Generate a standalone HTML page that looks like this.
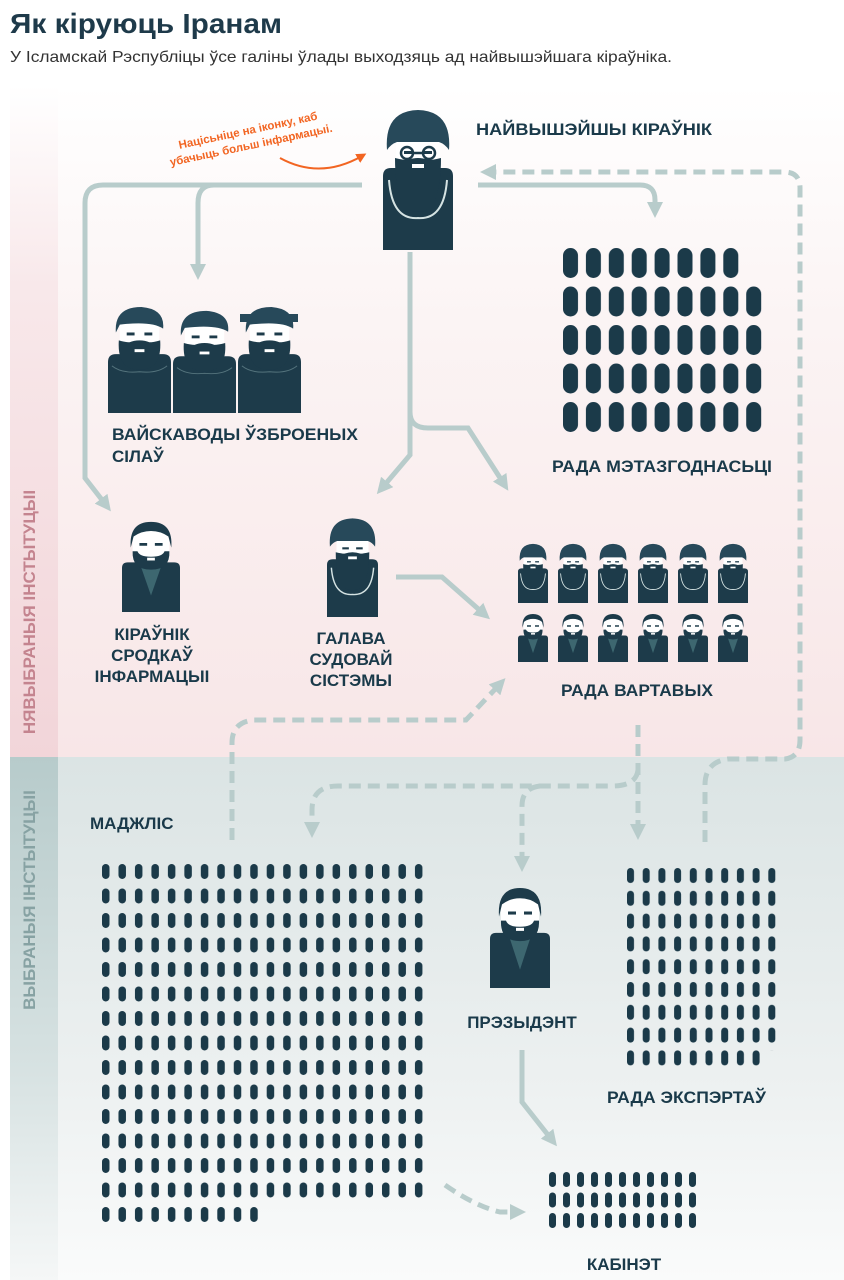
<!DOCTYPE html>
<html><head><meta charset="utf-8"><style>
html,body{margin:0;padding:0;background:#fff;}
body{width:844px;height:1280px;overflow:hidden;position:relative;font-family:"Liberation Sans",sans-serif;}
</style></head><body>
<svg width="844" height="1280" viewBox="0 0 844 1280" xmlns="http://www.w3.org/2000/svg" style="position:absolute;left:0;top:0">
<defs>
<linearGradient id="gTop" x1="0" y1="0" x2="0" y2="1">
<stop offset="0" stop-color="#ffffff"/><stop offset="0.35" stop-color="#fbf4f4"/><stop offset="1" stop-color="#f8e6e7"/></linearGradient>
<linearGradient id="gTopL" x1="0" y1="0" x2="0" y2="1">
<stop offset="0" stop-color="#ffffff"/><stop offset="0.3" stop-color="#f8e8ea"/><stop offset="1" stop-color="#f2d5d9"/></linearGradient>
<linearGradient id="gBot" x1="0" y1="0" x2="0" y2="1">
<stop offset="0" stop-color="#dbe4e4"/><stop offset="0.6" stop-color="#ecf0f0"/><stop offset="1" stop-color="#fafbfb"/></linearGradient>
<linearGradient id="gBotL" x1="0" y1="0" x2="0" y2="1">
<stop offset="0" stop-color="#b7cbcb"/><stop offset="0.6" stop-color="#d7e2e2"/><stop offset="1" stop-color="#f5f7f7"/></linearGradient>
<symbol id="mullah" viewBox="0 0 70 142" preserveAspectRatio="none">
<path d="M0 142V68Q0 60 8 60H62Q70 60 70 68V142Z" fill="#1d3b4a"/>
<rect x="13" y="32" width="44" height="22" fill="#fff"/>
<path d="M4 42Q1 3 35 2Q69 3 66 42Q62 36 56 34H14Q8 36 4 42Z" fill="#27495a"/>
<path d="M12 50Q12 104 35 104Q58 104 58 50Q50 52 46 52Q40 50 35 50Q30 50 24 52Q20 52 12 50Z" fill="#1d3b4a"/>
<rect x="29" y="56" width="12" height="4" fill="#fff"/>
<rect x="21" y="43" width="9" height="3" fill="#1d3b4a"/><rect x="40" y="43" width="9" height="3" fill="#1d3b4a"/>
<path d="M6 72Q9 112 35 110Q61 112 64 72" stroke="#d5e3e3" stroke-width="2" fill="none"/>
</symbol>
<symbol id="civil" viewBox="0 0 60 100" preserveAspectRatio="none">
<path d="M0 100V52Q0 46 6 46H54Q60 46 60 52V100Z" fill="#1d3b4a"/>
<path d="M18 46L30 82L42 46Z" fill="#3d6770"/>
<rect x="11" y="12" width="38" height="34" rx="4" fill="#fff"/>
<path d="M9 30Q7 2 30 2Q53 2 51 30L48 18Q40 12 30 12Q20 12 12 18Z" fill="#1d3b4a"/>
<path d="M11 34Q10 54 30 54Q50 54 49 34H44Q42 40 30 40Q18 40 16 34Z" fill="#1d3b4a"/>
<rect x="26" y="41" width="8" height="3" fill="#fff"/>
<rect x="18" y="25" width="8" height="3" fill="#1d3b4a"/><rect x="34" y="25" width="8" height="3" fill="#1d3b4a"/>
</symbol>
<symbol id="gen" viewBox="0 0 64 110" preserveAspectRatio="none">
<path d="M0 110V58Q0 50 8 50H56Q64 50 64 58V110Z" fill="#1d3b4a"/>
<rect x="12" y="16" width="40" height="38" rx="4" fill="#fff"/>
<path d="M8 28Q6 2 34 2Q58 4 56 24Q44 16 12 20Z" fill="#27495a"/>
<path d="M11 36Q9 66 32 66Q55 66 53 36Q46 38 42 38Q38 36 32 36Q26 36 22 38Q18 38 11 36Z" fill="#1d3b4a"/>
<rect x="27" y="45" width="10" height="3" fill="#fff"/>
<rect x="19" y="28" width="8" height="3" fill="#1d3b4a"/><rect x="37" y="28" width="8" height="3" fill="#1d3b4a"/>
<path d="M4 62Q14 70 32 68Q50 70 60 62" stroke="#55747d" stroke-width="1" fill="none"/>
</symbol>
<pattern id="pM" patternUnits="userSpaceOnUse" x="102" y="864" width="16.47" height="24.5"><rect x="0" y="0" width="7.5" height="15" rx="3.7" fill="#1b3a49"/></pattern>
<pattern id="pE" patternUnits="userSpaceOnUse" x="627" y="868" width="15.7" height="22.8"><rect x="0" y="0" width="7" height="15" rx="3.5" fill="#1b3a49"/></pattern>
<pattern id="pC" patternUnits="userSpaceOnUse" x="549" y="1172" width="14" height="20.5"><rect x="0" y="0" width="7" height="15" rx="3.5" fill="#1b3a49"/></pattern>
<pattern id="pX" patternUnits="userSpaceOnUse" x="563" y="248" width="22.9" height="38.5"><rect x="0" y="0" width="15" height="30" rx="7.5" fill="#1b3a49"/></pattern>
<marker id="ar" viewBox="0 0 10 10" refX="5" refY="5" markerWidth="3.2" markerHeight="3.2" orient="auto"><path d="M0 0L10 5L0 10Z" fill="#b8cccb"/></marker>
<marker id="ao" viewBox="0 0 10 10" refX="5" refY="5" markerWidth="5" markerHeight="5" orient="auto"><path d="M0 0L10 5L0 10Z" fill="#f26522"/></marker>
</defs>

<rect x="10" y="85" width="834" height="672" fill="url(#gTop)"/>
<rect x="10" y="85" width="48" height="672" fill="url(#gTopL)"/>
<rect x="10" y="757" width="834" height="523" fill="url(#gBot)"/>
<rect x="10" y="757" width="48" height="523" fill="url(#gBotL)"/>

<text x="35" y="612" transform="rotate(-90 35 612)" text-anchor="middle" font-size="17" font-weight="bold" fill="#c4848f">НЯВЫБРАНЫЯ ІНСТЫТУЦЫІ</text>
<text x="35" y="900" transform="rotate(-90 35 900)" text-anchor="middle" font-size="17" font-weight="bold" fill="#87a2a3">ВЫБРАНЫЯ ІНСТЫТУЦЫІ</text>

<text x="10" y="33" font-size="28" font-weight="bold" fill="#1e3a4a" textLength="272" lengthAdjust="spacingAndGlyphs">Як кіруюць Іранам</text>
<text x="10" y="62" font-size="16" fill="#333" textLength="662" lengthAdjust="spacingAndGlyphs">У Ісламскай Рэспубліцы ўсе галіны ўлады выходзяць ад найвышэйшага кіраўніка.</text>

<g fill="none" stroke="#b8cccb" stroke-width="5">
<path d="M362 185H103Q85 185 85 203V478L106 505" marker-end="url(#ar)"/>
<path d="M214 185Q198 185 198 203V272" marker-end="url(#ar)"/>
<path d="M410 252V412Q410 428 428 428H468L504 484" marker-end="url(#ar)"/>
<path d="M410 405V455L382 488" marker-end="url(#ar)"/>
<path d="M478 185H640Q655 185 655 200V210" marker-end="url(#ar)"/>
<path d="M396 577H442L484 614" marker-end="url(#ar)"/>
<path d="M522 1050V1102L552 1140" marker-end="url(#ar)"/>
</g>
<g fill="none" stroke="#b8cccb" stroke-width="5" stroke-dasharray="12 7">
<path d="M705 842V785Q705 762 728 759H785Q800 757 800 740V188Q800 172 784 172H488" marker-end="url(#ar)"/>
<path d="M232 840V743Q232 722 254 720H466L500 684" marker-end="url(#ar)"/>
<path d="M638 725V832" marker-end="url(#ar)"/>
<path d="M638 770Q636 786 612 786H338Q312 786 312 810V830" marker-end="url(#ar)"/>
<path d="M540 786Q522 788 522 806V864" marker-end="url(#ar)"/>
<path d="M445 1185Q475 1206 500 1212H518" marker-end="url(#ar)"/>
</g>

<g transform="rotate(-12 250 140)" font-size="11.5" font-weight="bold" fill="#f26522" text-anchor="middle">
<text x="250" y="134">Націсьніце на іконку, каб</text>
<text x="250" y="149">убачыць больш інфармацыі.</text>
</g>
<path d="M280 158Q320 180 362 156" fill="none" stroke="#f26522" stroke-width="2" marker-end="url(#ao)"/>

<use href="#mullah" x="383" y="108" width="70" height="142"/>
<g fill="none" stroke="#1d3b4a" stroke-width="2.5"><circle cx="407" cy="153" r="6"/><circle cx="429" cy="153" r="6"/><path d="M413 153H423"/></g>

<use href="#gen" x="108" y="305" width="63" height="108"/>
<use href="#gen" x="173" y="309" width="63" height="104"/>
<use href="#gen" x="238" y="305" width="63" height="108"/>
<rect x="240" y="314" width="58" height="8" fill="#27495a"/>

<use href="#civil" x="122" y="520" width="58" height="92"/>
<use href="#mullah" x="327" y="517" width="51" height="100"/>

<use href="#mullah" x="518" y="543" width="30" height="60"/>
<use href="#mullah" x="558" y="543" width="30" height="60"/>
<use href="#mullah" x="598" y="543" width="30" height="60"/>
<use href="#mullah" x="638" y="543" width="30" height="60"/>
<use href="#mullah" x="678" y="543" width="30" height="60"/>
<use href="#mullah" x="718" y="543" width="30" height="60"/>
<use href="#civil" x="518" y="613" width="30" height="49"/>
<use href="#civil" x="558" y="613" width="30" height="49"/>
<use href="#civil" x="598" y="613" width="30" height="49"/>
<use href="#civil" x="638" y="613" width="30" height="49"/>
<use href="#civil" x="678" y="613" width="30" height="49"/>
<use href="#civil" x="718" y="613" width="30" height="49"/>

<use href="#civil" x="490" y="886" width="60" height="102"/>

<rect x="563" y="248" width="178" height="38.5" fill="url(#pX)"/>
<rect x="563" y="286.5" width="200" height="154" fill="url(#pX)"/>
<rect x="102" y="864" width="321" height="343" fill="url(#pM)"/>
<rect x="102" y="1207" width="164" height="16" fill="url(#pM)"/>
<rect x="627" y="868" width="150" height="182.4" fill="url(#pE)"/>
<rect x="627" y="1050.4" width="135" height="16" fill="url(#pE)"/>
<rect x="549" y="1172" width="150" height="61.5" fill="url(#pC)"/>

<g font-size="17" font-weight="bold" fill="#1a3a4a" lengthAdjust="spacingAndGlyphs">
<text x="476" y="135" textLength="236" lengthAdjust="spacingAndGlyphs">НАЙВЫШЭЙШЫ КІРАЎНІК</text>
<text x="112" y="440" textLength="246" lengthAdjust="spacingAndGlyphs">ВАЙСКАВОДЫ ЎЗБРОЕНЫХ</text>
<text x="112" y="462">СІЛАЎ</text>
<text x="552" y="472" textLength="220" lengthAdjust="spacingAndGlyphs">РАДА МЭТАЗГОДНАСЬЦІ</text>
<g text-anchor="middle">
<text x="152" y="640">КІРАЎНІК</text>
<text x="152" y="661">СРОДКАЎ</text>
<text x="152" y="682">ІНФАРМАЦЫІ</text>
<text x="351" y="644">ГАЛАВА</text>
<text x="351" y="665">СУДОВАЙ</text>
<text x="351" y="686">СІСТЭМЫ</text>
<text x="522" y="1028">ПРЭЗЫДЭНТ</text>
<text x="624" y="1270">КАБІНЭТ</text>
</g>
<text x="561" y="696" textLength="152" lengthAdjust="spacingAndGlyphs">РАДА ВАРТАВЫХ</text>
<text x="90" y="829">МАДЖЛІС</text>
<text x="607" y="1103" textLength="159" lengthAdjust="spacingAndGlyphs">РАДА ЭКСПЭРТАЎ</text>
</g>
</svg>
</body></html>
